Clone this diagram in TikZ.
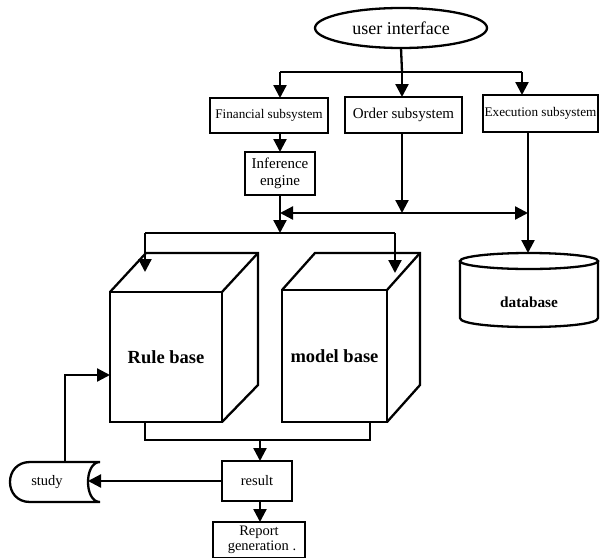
\documentclass[tikz,border=0pt]{standalone}
\usepackage{fontspec}
\setmainfont{Liberation Serif}
\usetikzlibrary{arrows.meta,shapes.geometric}
\begin{document}
\begin{tikzpicture}[x=1pt,y=-1pt,line width=2.3pt,
  box/.style={draw,rectangle,inner sep=0pt,outer sep=0pt,align=center},
  arr/.style={-{Triangle[length=13pt,width=13pt]}},
  darr/.style={{Triangle[length=13pt,width=13pt]}-{Triangle[length=13pt,width=13pt]}},
  fa/.style={font=\fontsize{13.2}{14}\selectfont},
  fb/.style={font=\fontsize{14.5}{15}\selectfont},
  fc/.style={font=\fontsize{15.3}{16}\selectfont\bfseries},
  fd/.style={font=\fontsize{18.5}{20}\selectfont\bfseries}]
\useasboundingbox (0,0) rectangle (601,557);

% top
\node[draw,ellipse,inner sep=0pt,outer sep=0pt,minimum width=172pt,minimum height=40pt,
  font=\fontsize{18}{19}\selectfont] (ui) at (401,28) {user interface};
\node[box,fa,minimum width=118pt,minimum height=35pt] (fs) at (269,115.5) {Financial subsystem};
\node[box,font=\fontsize{15}{16}\selectfont,minimum width=117pt,minimum height=36pt] (os) at (403.5,115) {Order subsystem};
\node[box,fa,minimum width=115pt,minimum height=37pt] (es) at (540.5,113.5) {Execution subsystem};
\node[box,font=\fontsize{15}{17}\selectfont,minimum width=70pt,minimum height=43pt] (ie) at (280,173.5) {Inference\\engine};

\coordinate (j1) at (402,72);
\coordinate (j1l) at (280,72);
\coordinate (j1r) at (522,72);
\draw (ui.south) -- (j1);
\draw (j1l) -- (j1r);
\draw[arr] (j1l) -- (j1l |- fs.north);
\draw[arr] (j1) -- (j1 |- os.north);
\draw[arr] (j1r) -- (j1r |- es.north);
\draw[arr] (fs.south -| ie.north) -- (ie.north);

% middle bus
\coordinate (j2) at (402,213);
\coordinate (j2l) at (280,213);
\coordinate (j2r) at (528,213);
\draw[arr] (j2 |- os.south) -- (j2);
\draw[darr] (j2l) -- (j2r);

% database
\node[fc] (db) at (529,302) {database};
\draw (460,261) -- (460,318) .. controls (460,330) and (598,330) .. (598,318) -- (598,261);
\draw (529,261) ellipse [x radius=69, y radius=8];
\coordinate (dbtop) at (528,253);
\draw[arr] (j2r |- es.south) -- (dbtop);

% cubes
\node[box,fd,minimum width=112pt,minimum height=130pt] (rb) at (166,357) {Rule base};
\draw (rb.north west) -- ++(36,-39) -- ++(112,0) -- ++(0,132) -- (rb.south east);
\draw (rb.north east) -- ++(36,-39);
\node[box,fd,minimum width=105pt,minimum height=132pt] (mb) at (334.5,356) {model base};
\draw (mb.north west) -- ++(33,-37) -- ++(105,0) -- ++(0,132) -- (mb.south east);
\draw (mb.north east) -- ++(33,-37);

\coordinate (j3) at (280,233);
\coordinate (j3l) at (145,233);
\coordinate (j3r) at (395,233);
\coordinate (rbtop) at (145,272);
\coordinate (mbtop) at (395,273);
\draw[arr] (ie.south) -- (j3);
\draw (j3l) -- (j3r);
\draw[arr] (j3l) -- (rbtop);
\draw[arr] (j3r) -- (mbtop);

% bottom
\node[box,fb,minimum width=70pt,minimum height=40pt] (res) at (257,481) {result};
\node[box,fb,minimum width=92pt,minimum height=36pt,inner sep=0pt] (rep) at (259,540) {Report\\\hspace*{6pt}generation .};

\coordinate (j4l) at (145,440);
\coordinate (j4r) at (370,440);
\coordinate (j4) at (260,440);
\draw (rb.south -| j4l) -- (j4l) -- (j4r) -- (mb.south -| j4r);
\draw[arr] (j4) -- (j4 |- res.north);
\draw[arr] (res.south -| j4) -- (j4 |- rep.north);

% study
\draw (100,462) -- (30,462) .. controls (3.3,462) and (3.3,502) .. (30,502) -- (100,502)
  .. controls (84,502) and (84,462) .. (100,462);
\node[fb] (st) at (47,482) {study};
\coordinate (stin) at (88,481);
\draw[arr] (res.west) -- (stin);
\coordinate (sttop) at (65,462);
\coordinate (bend) at (65,375);
\draw[arr] (sttop) -- (bend) -- (bend -| rb.west);
\end{tikzpicture}
\end{document}
